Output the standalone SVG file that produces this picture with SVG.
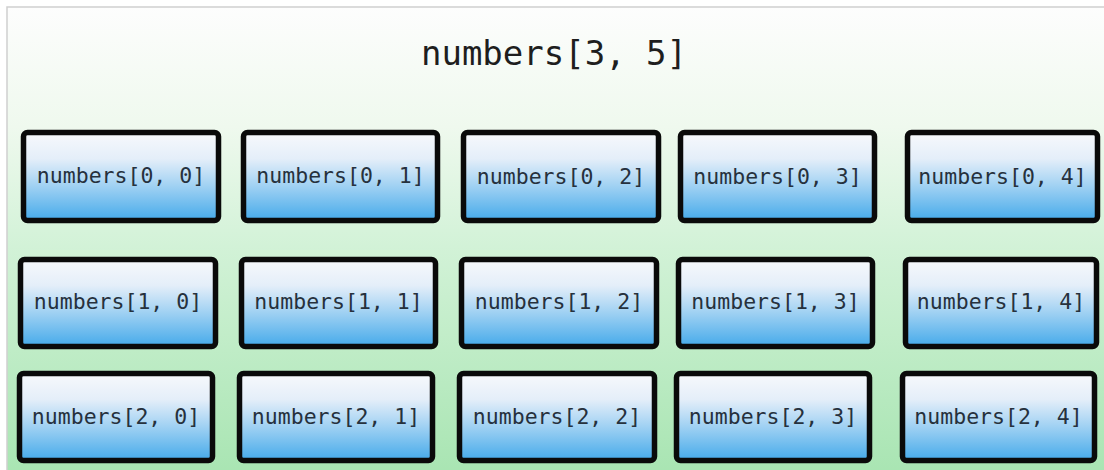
<svg xmlns="http://www.w3.org/2000/svg" width="1104" height="470" viewBox="0 0 1104 470">
<defs>
<linearGradient id="bg" x1="0" y1="0" x2="0" y2="1">
<stop offset="0" stop-color="#fdfdfd"/>
<stop offset="0.25" stop-color="#eff9ee"/>
<stop offset="0.5" stop-color="#d2f2d7"/>
<stop offset="1" stop-color="#a6e4b0"/>
</linearGradient>
<linearGradient id="cell" x1="0" y1="0" x2="0" y2="1">
<stop offset="0" stop-color="#f7f9fc"/>
<stop offset="0.3" stop-color="#e4eef9"/>
<stop offset="0.6" stop-color="#a2d2f3"/>
<stop offset="1" stop-color="#45aaea"/>
</linearGradient>
<style>
.box{fill:url(#cell);stroke:#0a0a0a;stroke-width:5.5}
.lbl{font-family:"DejaVu Sans Mono","Liberation Mono",monospace;font-size:21.5px;fill:#26313d;text-anchor:middle}
.title{font-family:"DejaVu Sans Mono","Liberation Mono",monospace;font-size:34px;fill:#1e1e1e;text-anchor:middle}
</style>
</defs>
<rect x="0" y="0" width="1104" height="470" fill="#ffffff"/>
<rect x="7" y="7" width="1110" height="480" fill="url(#bg)" stroke="#cfcfcf" stroke-width="1.5"/>
<text class="title" x="554" y="65">numbers[3, 5]</text>
<g id="n00"><rect class="box" x="23.5" y="132.5" width="195" height="88" rx="4"/><text class="lbl" x="121" y="183">numbers[0, 0]</text></g>
<g id="n01"><rect class="box" x="243.5" y="132.5" width="194" height="88" rx="4"/><text class="lbl" x="340.5" y="183">numbers[0, 1]</text></g>
<g id="n02"><rect class="box" x="463.5" y="132.5" width="195" height="88" rx="4"/><text class="lbl" x="561" y="184">numbers[0, 2]</text></g>
<g id="n03"><rect class="box" x="680.5" y="132.5" width="194" height="88" rx="4"/><text class="lbl" x="777.5" y="184">numbers[0, 3]</text></g>
<g id="n04"><rect class="box" x="907.5" y="132.5" width="190" height="88" rx="4"/><text class="lbl" x="1002.5" y="184">numbers[0, 4]</text></g>
<g id="n10"><rect class="box" x="20.5" y="259.5" width="195" height="87" rx="4"/><text class="lbl" x="118" y="309">numbers[1, 0]</text></g>
<g id="n11"><rect class="box" x="241.5" y="259.5" width="194" height="87" rx="4"/><text class="lbl" x="338.5" y="309">numbers[1, 1]</text></g>
<g id="n12"><rect class="box" x="461.5" y="259.5" width="195" height="87" rx="4"/><text class="lbl" x="559" y="309">numbers[1, 2]</text></g>
<g id="n13"><rect class="box" x="678.5" y="259.5" width="194" height="87" rx="4"/><text class="lbl" x="775.5" y="309">numbers[1, 3]</text></g>
<g id="n14"><rect class="box" x="905.5" y="259.5" width="191" height="87" rx="4"/><text class="lbl" x="1001" y="309">numbers[1, 4]</text></g>
<g id="n20"><rect class="box" x="19.5" y="373.5" width="193" height="87" rx="4"/><text class="lbl" x="116" y="424">numbers[2, 0]</text></g>
<g id="n21"><rect class="box" x="239.5" y="373.5" width="193" height="87" rx="4"/><text class="lbl" x="336" y="424">numbers[2, 1]</text></g>
<g id="n22"><rect class="box" x="459.5" y="373.5" width="195" height="87" rx="4"/><text class="lbl" x="557" y="424">numbers[2, 2]</text></g>
<g id="n23"><rect class="box" x="676.5" y="373.5" width="193" height="87" rx="4"/><text class="lbl" x="773" y="424">numbers[2, 3]</text></g>
<g id="n24"><rect class="box" x="902.5" y="373.5" width="192" height="87" rx="4"/><text class="lbl" x="998.5" y="424">numbers[2, 4]</text></g>
<g id="connectors"/>
</svg>
